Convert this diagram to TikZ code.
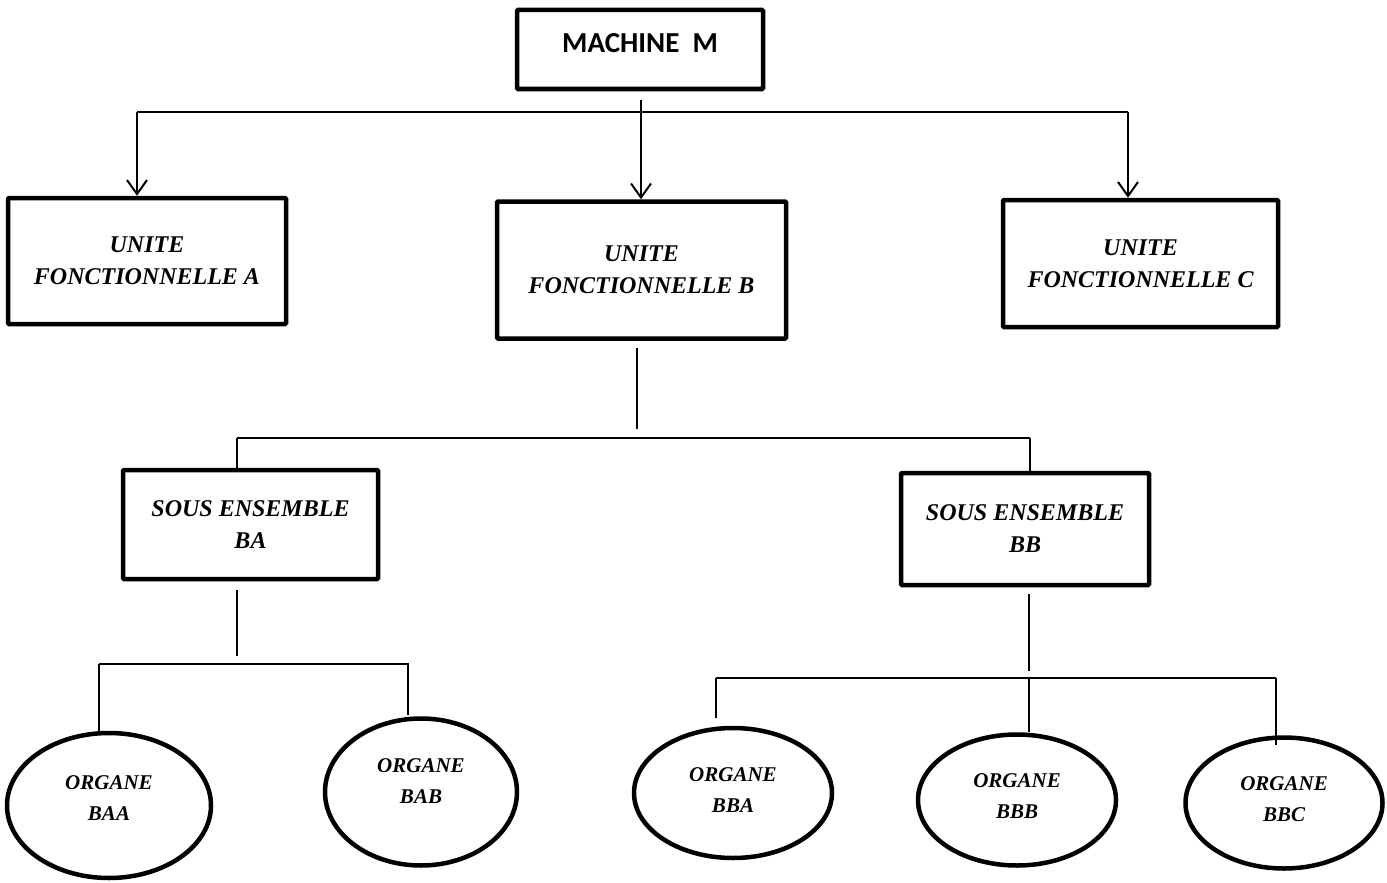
\documentclass[tikz,border=0pt]{standalone}
\usepackage{fontspec}
\setmainfont{Liberation Serif}
\newfontfamily\calibrifont{Carlito}
\usetikzlibrary{arrows.meta,shapes.geometric}
\tikzset{
  boxnode/.style={draw, line width=4.5pt, rectangle, rounded corners=1pt, align=center, inner sep=0pt,
     font=\fontsize{24}{32}\selectfont\bfseries\itshape},
  ovalnode/.style={draw, line width=4.5pt, ellipse, align=center, inner sep=0pt,
     font=\fontsize{21}{31}\selectfont\bfseries\itshape},
  link/.style={line width=1.8pt},
  arr/.style={line width=2pt, -{Straight Barb[length=14pt,width=20pt,line width=2pt]}},
}
\newcommand{\upby}[2]{\raisebox{#1}[\height][\depth]{\begin{tabular}{@{}c@{}}#2\end{tabular}}}
\begin{document}
\begin{tikzpicture}[x=1pt,y=-1pt]
\useasboundingbox (0,0) rectangle (1387,883);
% boxes
\node[boxnode, minimum width=246pt, minimum height=79pt, font=\fontsize{29}{32}\selectfont\calibrifont\bfseries] (M) at (640,49.5) {\raisebox{6pt}[\height][\depth]{MACHINE\ \ M}};
\node[boxnode, minimum width=278pt, minimum height=126pt] (A) at (147,261) {UNITE\\FONCTIONNELLE A};
\node[boxnode, minimum width=289pt, minimum height=137pt] (B) at (641.5,270) {UNITE\\FONCTIONNELLE B};
\node[boxnode, minimum width=275pt, minimum height=127pt] (C) at (1140.5,263.5) {UNITE\\FONCTIONNELLE C};
\node[boxnode, minimum width=255pt, minimum height=109pt] (BA) at (250.5,524.5) {SOUS ENSEMBLE\\BA};
\node[boxnode, minimum width=248pt, minimum height=112pt] (BB) at (1025,529) {SOUS ENSEMBLE\\BB};
% ellipses
\node[ovalnode, minimum width=204pt, minimum height=145pt] (BAA) at (109,805.5) {\upby{7pt}{ORGANE\\BAA}};
\node[ovalnode, minimum width=192pt, minimum height=147pt] (BAB) at (421,792) {\upby{10pt}{ORGANE\\BAB}};
\node[ovalnode, minimum width=198pt, minimum height=130pt] (BBA) at (733,793) {\upby{2pt}{ORGANE\\BBA}};
\node[ovalnode, minimum width=198pt, minimum height=131pt] (BBB) at (1017,800) {\upby{3pt}{ORGANE\\BBB}};
\node[ovalnode, minimum width=197pt, minimum height=131pt] (BBC) at (1284,803) {\upby{3pt}{ORGANE\\BBC}};
% coordinates for buses
\coordinate (mstem) at (641,100);
\coordinate (busL) at (137,112);
\coordinate (busR) at (1128,112);
\coordinate (bstemT) at (637,348);
\coordinate (bstemB) at (637,429);
\coordinate (bus2L) at (237,438);
\coordinate (bus2R) at (1030,438);
\coordinate (bastemT) at (237,590);
\coordinate (bastemB) at (237,656);
\coordinate (bus3L) at (99,664);
\coordinate (bus3R) at (408,664);
\coordinate (bbstemT) at (1029,594);
\coordinate (bbstemB) at (1029,671);
\coordinate (bus4L) at (716,678);
\coordinate (bus4M) at (1029,678);
\coordinate (bus4R) at (1276,678);
\coordinate (bbaend) at (716,718);
\coordinate (bbcend) at (1276,745);
% top level
\draw[link] (busL) -- (busR);
\draw[arr, line width=2.6pt] (mstem) -- (mstem |- B.north);
\draw[arr] (busL) -- (busL |- A.north);
\draw[arr] (busR) -- (busR |- C.north);
% second level
\draw[link] (bstemT) -- (bstemB);
\draw[link] (bus2L) -- (bus2R);
\draw[link] (bus2L) -- (bus2L |- BA.north);
\draw[link] (bus2R) -- (bus2R |- BB.north);
% third level left
\draw[link] (bastemT) -- (bastemB);
\draw[link] (bus3L) -- (bus3L |- BAA.north);
\draw[link] (bus3L) -- (bus3R) -- ([yshift=1pt]bus3R |- BAB.north);
% third level right
\draw[link] (bbstemT) -- (bbstemB);
\draw[link] (bus4L) -- (bus4R);
\draw[link] (bus4L) -- (bbaend);
\draw[link] (bus4M) -- (bus4M |- BBB.north);
\draw[link] (bus4R) -- (bbcend);
\end{tikzpicture}
\end{document}
